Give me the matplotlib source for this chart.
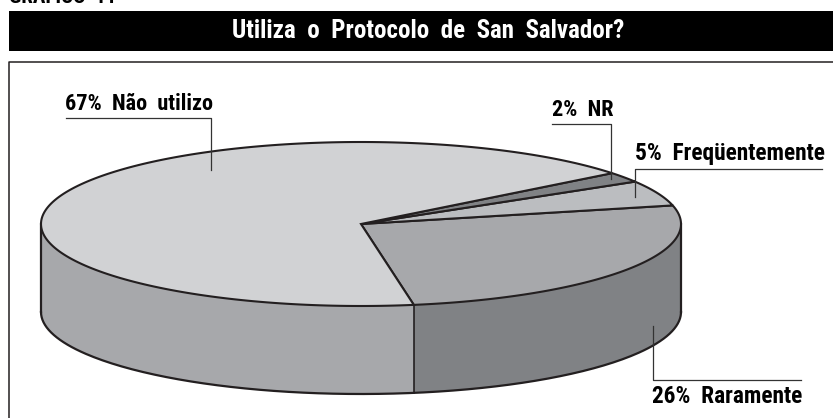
import numpy as np
import matplotlib
matplotlib.use('Agg')
import matplotlib.pyplot as plt
from matplotlib.patches import Polygon

FONT = ['Roboto Condensed', 'DejaVu Sans']

# values, clockwise from the front edge of the disc
labels = ['Raramente', 'Freqüentemente', 'NR', 'Não utilizo']
values = [26, 5, 2, 67]
top_colors = ['#a7a8ab', '#bbbdc0', '#808285', '#d1d2d4']
side_colors = ['#808285', '#808285', '#808285', '#a7a8ab']
title = 'Utiliza  o  Protocolo  de  San  Salvador?'

# disc geometry, in pixels
cx, cy = 361, 224
rx, ry = 320, 82
depth = 88
start = -80.5
edge = '#231f20'


def rim(t1, t2):
    t = np.radians(np.linspace(t1, t2, 200))
    return cx + rx * np.cos(t), cy - ry * np.sin(t)


fig = plt.figure(figsize=(8.33, 4.18), dpi=100)
ax = fig.add_axes([0, 0, 1, 1])
ax.set_xlim(0, 833)
ax.set_ylim(418, 0)
ax.axis('off')

# header
ax.text(9, 3, 'GRÁFICO  11', family=FONT, fontsize=15, fontweight='bold', color='black', va='baseline')
ax.fill([9, 833, 833, 9], [11, 11, 51, 51], color='black', lw=0)
ax.text(428, 31, title, family=FONT, fontsize=18, fontweight='bold', color='white',
        ha='center', va='center')
ax.plot([9.5, 9.5, 833], [418, 62, 62], color=edge, lw=1.1)

angles = start + np.cumsum([0] + values) * 3.6

# side wall: only the front half of the rim is visible
for i in range(len(values)):
    t1, t2 = angles[i], angles[i + 1]
    segs = []
    if t1 < 0:
        segs.append((t1, min(t2, 0)))
    if t2 > 180:
        segs.append((max(t1, 180), min(t2, 360)))
    for a, b in segs:
        x, y = rim(a, b)
        pts = np.column_stack([np.r_[x, x[::-1]], np.r_[y, y[::-1] + depth]])
        ax.add_patch(Polygon(pts, closed=True, fc=side_colors[i], ec='none', zorder=2))

# wall outlines
x, y = rim(180, 360)
ax.plot(x, y + depth, color=edge, lw=1.6, zorder=3)
ax.plot([cx - rx, cx - rx], [cy, cy + depth], color=edge, lw=1.6, zorder=3)
ax.plot([cx + rx, cx + rx], [cy, cy + depth], color=edge, lw=1.6, zorder=3)
bx, by = rim(start, start)
ax.plot([bx[0], bx[0]], [by[0], by[0] + depth], color=edge, lw=1.2, zorder=3)

# top face
for i in range(len(values)):
    x, y = rim(angles[i], angles[i + 1])
    pts = np.column_stack([np.r_[cx, x], np.r_[cy, y]])
    ax.add_patch(Polygon(pts, closed=True, fc=top_colors[i], ec=edge, lw=1.5, joinstyle='miter', zorder=4))

# callouts: text, text anchor, font size, leader line
callouts = [
    ('67% Não utilizo', 65, 110, 16, [(66, 118), (211, 118), (211, 170)]),
    ('2% NR', 552, 116, 16, [(552, 124), (611, 124), (611, 179)]),
    ('5% Freqüentemente', 635, 160, 16.8, [(822, 169), (635, 169), (635, 197)]),
    ('26% Raramente', 652, 403, 16.8, [(801, 380), (653, 380), (653, 326)]),
]
for txt, tx, ty, size, line in callouts:
    ax.text(tx, ty, txt.replace(' ', '  '), family=FONT, fontsize=size, fontweight='bold', color='black',
            va='baseline', zorder=6)
    lx, ly = zip(*line)
    ax.plot(lx, ly, color='#333333', lw=0.9, zorder=5)

fig.savefig('out.png', dpi=100)
